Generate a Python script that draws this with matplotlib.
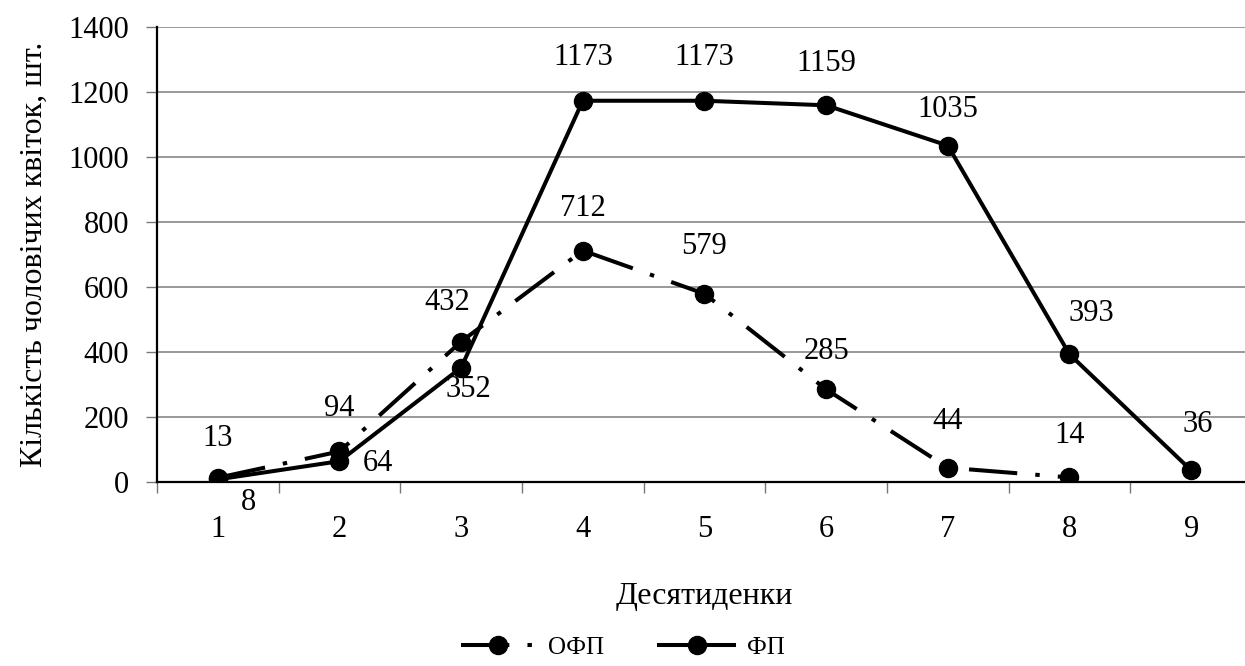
import matplotlib
matplotlib.use("Agg")
import matplotlib.pyplot as plt
import numpy as np

plt.rcParams['font.family'] = ['Liberation Serif', 'DejaVu Serif']

decades = [1, 2, 3, 4, 5, 6, 7, 8, 9]
ofp = [13, 94, 432, 712, 579, 285, 44, 14]
fp = [8, 64, 352, 1173, 1173, 1159, 1035, 393, 36]

# label offsets in points (dx, dy)
ofp_off = [(0, 28), (0, 31), (-10, 28), (0, 30), (0, 34), (0, 27), (0, 33), (0, 30)]
fp_off = [(22, -17), (28, -2), (5, -16), (0, 31), (0, 31), (0, 30), (0, 26), (16, 29), (5, 33)]

fig = plt.figure(figsize=(12.45, 6.66), dpi=100)
ax = fig.add_axes([0.1261, 0.2763, 0.8795, 0.6832])

ax.plot(decades[:len(ofp)], ofp, color='black', lw=2.9, marker='o', ms=13,
        dashes=(12, 4.5, 1.1, 4.5), label='ОФП')
ax.plot(decades, fp, color='black', lw=2.9, marker='o', ms=13, label='ФП')

for x, v, (dx, dy) in zip(decades, ofp, ofp_off):
    ax.annotate(str(v), (x, v), xytext=(dx, dy), textcoords='offset points',
                ha='center', va='center', fontsize=22)
for x, v, (dx, dy) in zip(decades, fp, fp_off):
    ax.annotate(str(v), (x, v), xytext=(dx, dy), textcoords='offset points',
                ha='center', va='center', fontsize=22)

ax.set_xlim(0.5, 9.5)
ax.set_ylim(0, 1400)
ax.set_yticks(np.arange(0, 1401, 200))
ax.set_xticks(np.arange(0.5, 9.6, 1))
ax.set_xticklabels([])
ax.set_xticks(decades, minor=True)
ax.set_xticklabels([str(d) for d in decades], minor=True)
ax.tick_params(axis='x', which='major', length=8, width=1, color='#777777', direction='out')
ax.tick_params(axis='x', which='minor', length=0, pad=24, labelsize=22)
ax.tick_params(axis='y', length=8, width=1, color='#777777', labelsize=22, pad=12)

ax.grid(axis='y', color='#888888', lw=1.2)
ax.set_axisbelow(True)
for s in ['top', 'right']:
    ax.spines[s].set_visible(False)
ax.spines['left'].set_linewidth(1.6)
ax.spines['bottom'].set_linewidth(1.6)

ax.set_xlabel('Десятиденки', fontsize=23, labelpad=27)
ax.set_ylabel('Кількість чоловічих квіток, шт.', fontsize=23, labelpad=14)

fig.legend(loc='center', bbox_to_anchor=(0.5, 0.028), ncol=2, frameon=False,
           fontsize=18, handlelength=3.0, columnspacing=2.2, handletextpad=0.5)

fig.savefig('out.png', dpi=100)
